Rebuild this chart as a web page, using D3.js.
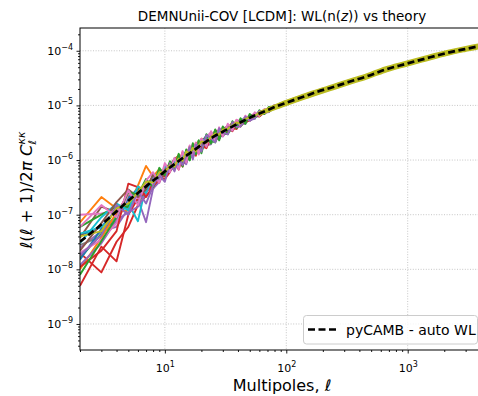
<!DOCTYPE html>
<html><head><meta charset="utf-8">
<script src="https://cdn.jsdelivr.net/npm/d3@7"></script>
<style>
body{margin:0;background:#fff}
svg{display:block}
text{font-family:"DejaVu Sans",sans-serif}
</style>
</head><body>
<svg id="c" width="478" height="396"></svg>
<script>
// ---------------- data ----------------
const ells = [2,3,4,5,6,7,8,9,10,11,12,13,14,15,16,17,18,19,20,22,24,26,28,30,33,36,39,42,46,50,55,60,66,72,80,88,97,107,120,135,155,180,210,250,300,360,460];

const r01 = [4.2e-8,5.9e-8,1.27e-7,1.35e-7,3.0e-7,3.0e-7,4.4e-7,4.3e-7,6.8e-7,6.9e-7,8.8e-7,1.15e-6,8.6e-7,1.5e-6,1.19e-6,1.9e-6,1.36e-6,1.93e-6,1.43e-6,2.64e-6,2.25e-6,3.2e-6,2.6e-6,3.96e-6,3.33e-6,4.5e-6,3.96e-6,5.6e-6,4.86e-6,6.5e-6,6.0e-6,7.7e-6,7.2e-6,9.2e-6,8.8e-6,1.06e-5,1.04e-5,1.24e-5,1.25e-5,1.49e-5,1.53e-5,1.83e-5,1.94e-5,2.32e-5,2.5e-5,2.96e-5,3.4e-5];
const r02 = [7.2e-8,2.1e-7,1.3e-7,1.5e-7,3.4e-7,7.8e-7,5.0e-7,6.8e-7,5.6e-7,9.0e-7,8.0e-7,8.2e-7,1.4e-6,1.2e-6,1.78e-6,1.31e-6,1.92e-6,1.4e-6,2.47e-6,2.09e-6,3.1e-6,2.52e-6,3.66e-6,2.8e-6,4.25e-6,3.9e-6,5.4e-6,4.37e-6,6.05e-6,5.5e-6,7.15e-6,6.4e-6,8.3e-6,8.0e-6,9.95e-6,9.4e-6,1.16e-5,1.12e-5,1.37e-5,1.38e-5,1.64e-5,1.73e-5,2.04e-5,2.2e-5,2.6e-5,2.87e-5,3.43e-5];
const r03 = [1.6e-8,4.5e-8,1.0e-7,2.2e-7,1.6e-7,2.9e-7,3.6e-7,4.4e-7,5.3e-7,6.3e-7,7.8e-7,9.6e-7,8.1e-7,1.32e-6,1.58e-6,1.17e-6,1.68e-6,2.28e-6,1.71e-6,1.76e-6,2.75e-6,3.36e-6,2.75e-6,3.47e-6,3.15e-6,4.7e-6,4.5e-6,4.27e-6,5.95e-6,6.2e-6,5.85e-6,7.8e-6,7.1e-6,8.8e-6,1.0e-5,9.3e-6,1.11e-5,1.25e-5,1.24e-5,1.48e-5,1.53e-5,1.83e-5,1.94e-5,2.3e-5,2.52e-5,2.96e-5,3.37e-5];
const r04 = [2.0e-8,8.8e-9,3.2e-8,6.0e-8,1.5e-7,2.2e-7,3.0e-7,4.8e-7,4.5e-7,6.0e-7,9.5e-7,6.7e-7,1.19e-6,9.0e-7,1.32e-6,1.17e-6,1.84e-6,1.31e-6,1.8e-6,1.76e-6,2.75e-6,2.18e-6,3.05e-6,2.8e-6,3.9e-6,3.36e-6,4.5e-6,4.12e-6,5.3e-6,5.3e-6,6.6e-6,6.25e-6,7.55e-6,7.7e-6,9.3e-6,9.3e-6,1.07e-5,1.12e-5,1.3e-5,1.36e-5,1.58e-5,1.73e-5,1.98e-5,2.2e-5,2.55e-5,2.87e-5,3.4e-5];
const r05 = [2.5e-8,5.0e-8,6.0e-8,1.3e-7,1.9e-7,7.3e-8,3.0e-7,4.0e-7,5.8e-7,6.2e-7,9.0e-7,1.01e-6,9.7e-7,8.4e-7,1.45e-6,1.46e-6,1.28e-6,1.66e-6,2.28e-6,1.87e-6,1.95e-6,2.94e-6,3.36e-6,2.7e-6,3.5e-6,4.43e-6,3.83e-6,4.6e-6,5.67e-6,5.2e-6,6.25e-6,7.45e-6,6.95e-6,8.15e-6,9.65e-6,9.2e-6,1.07e-5,1.23e-5,1.24e-5,1.41e-5,1.63e-5,1.71e-5,2.0e-5,2.2e-5,2.6e-5,2.84e-5,3.4e-5];
const r06 = [3.8e-8,1.4e-7,1.1e-7,2.3e-7,2.2e-7,3.9e-7,3.6e-7,6.0e-7,5.6e-7,7.9e-7,1.05e-6,1.2e-6,1.08e-6,1.38e-6,1.12e-6,1.75e-6,1.76e-6,1.58e-6,2.19e-6,2.75e-6,2.38e-6,2.8e-6,3.66e-6,3.63e-6,3.4e-6,4.6e-6,4.95e-6,4.6e-6,5.95e-6,6.25e-6,6.2e-6,7.65e-6,8.1e-6,8.05e-6,9.85e-6,1.04e-5,1.06e-5,1.23e-5,1.34e-5,1.39e-5,1.63e-5,1.82e-5,1.96e-5,2.3e-5,2.58e-5,2.9e-5,3.4e-5];
const r07 = [1.0e-7,1.05e-7,1.2e-7,1.7e-7,2.8e-7,3.0e-7,4.5e-7,5.0e-7,6.4e-7,7.0e-7,8.6e-7,8.6e-7,1.3e-6,1.02e-6,1.45e-6,1.97e-6,1.52e-6,2.0e-6,1.62e-6,2.64e-6,3.25e-6,2.52e-6,3.2e-6,3.96e-6,3.7e-6,3.7e-6,5.2e-6,5.35e-6,4.97e-6,6.5e-6,7.0e-6,6.65e-6,8.15e-6,9.0e-6,8.85e-6,1.05e-5,1.14e-5,1.14e-5,1.35e-5,1.46e-5,1.55e-5,1.82e-5,2.02e-5,2.23e-5,2.58e-5,2.93e-5,3.41e-5];
const r08 = [2.8e-8,4.0e-8,1.0e-7,1.5e-7,2.7e-7,2.8e-7,4.4e-7,4.7e-7,6.6e-7,6.8e-7,8.8e-7,1.06e-6,1.08e-6,9.6e-7,1.32e-6,1.31e-6,2.0e-6,1.75e-6,2.09e-6,2.09e-6,2.13e-6,3.22e-6,2.75e-6,3.3e-6,4.15e-6,3.6e-6,4.73e-6,4.37e-6,5.4e-6,5.6e-6,6.9e-6,6.8e-6,7.85e-6,7.9e-6,9.3e-6,1.05e-5,1.05e-5,1.18e-5,1.35e-5,1.38e-5,1.58e-5,1.82e-5,1.94e-5,2.27e-5,2.52e-5,2.9e-5,3.4e-5];
const r09 = [4.5e-8,6.0e-8,9.0e-8,1.6e-7,7.6e-8,3.5e-7,3.9e-7,5.5e-7,6.0e-7,8.0e-7,7.9e-7,9.1e-7,1.19e-6,1.44e-6,1.06e-6,1.61e-6,1.6e-6,1.4e-6,2.28e-6,2.2e-6,2.88e-6,2.38e-6,2.9e-6,3.63e-6,3.33e-6,4.3e-6,4.28e-6,5.43e-6,4.86e-6,6.15e-6,6.05e-6,7.5e-6,7.4e-6,8.8e-6,8.85e-6,1.03e-5,1.13e-5,1.13e-5,1.33e-5,1.46e-5,1.53e-5,1.8e-5,2.02e-5,2.2e-5,2.58e-5,2.9e-5,3.4e-5];
const r10 = [1.5e-8,5.5e-8,7.5e-8,2.0e-7,3.0e-7,2.6e-7,4.6e-7,5.6e-7,5.7e-7,7.8e-7,8.0e-7,7.7e-7,1.03e-6,1.26e-6,1.65e-6,1.46e-6,1.28e-6,1.93e-6,1.9e-6,2.86e-6,2.38e-6,3.08e-6,2.44e-6,3.14e-6,4.25e-6,4.1e-6,4.05e-6,5.1e-6,6.05e-6,5.3e-6,6.5e-6,6.6e-6,8.3e-6,8.25e-6,8.85e-6,1.04e-5,1.07e-5,1.24e-5,1.26e-5,1.42e-5,1.63e-5,1.74e-5,1.98e-5,2.3e-5,2.52e-5,2.93e-5,3.4e-5];
const r11 = [1.0e-8,3.8e-8,1.1e-7,1.2e-7,3.2e-7,3.0e-7,5.2e-7,4.6e-7,7.2e-7,6.7e-7,9.4e-7,1.25e-6,1.13e-6,1.08e-6,1.58e-6,1.68e-6,1.52e-6,2.19e-6,2.0e-6,1.98e-6,3.0e-6,2.94e-6,3.5e-6,3.14e-6,3.9e-6,4.9e-6,4.28e-6,5.25e-6,5.13e-6,6.5e-6,6.6e-6,6.9e-6,8.3e-6,8.05e-6,9.65e-6,1.0e-5,1.14e-5,1.14e-5,1.34e-5,1.39e-5,1.61e-5,1.76e-5,2.02e-5,2.25e-5,2.58e-5,2.87e-5,3.4e-5];
const r12 = [6.0e-8,1.0e-7,1.4e-7,1.4e-7,2.9e-7,3.1e-7,3.8e-7,6.2e-7,6.5e-7,6.9e-7,9.2e-7,1.1e-6,9.2e-7,1.2e-6,9.9e-7,1.61e-6,1.44e-6,1.75e-6,1.52e-6,2.31e-6,2.25e-6,2.1e-6,3.05e-6,2.97e-6,3.03e-6,3.9e-6,4.95e-6,4.12e-6,5.3e-6,5.3e-6,6.2e-6,6.4e-6,7.7e-6,7.7e-6,8.9e-6,9.5e-6,1.06e-5,1.11e-5,1.27e-5,1.36e-5,1.55e-5,1.73e-5,1.96e-5,2.2e-5,2.52e-5,2.87e-5,3.4e-5];
const r13 = [5.0e-9,2.6e-8,1.4e-8,1.0e-7,2.0e-7,2.6e-7,3.5e-7,5.8e-7,5.0e-7,7.8e-7,7.5e-7,9.1e-7,1.35e-6,1.08e-6,1.39e-6,1.24e-6,2.08e-6,1.84e-6,1.71e-6,2.53e-6,2.38e-6,3.5e-6,3.2e-6,2.97e-6,4.07e-6,3.9e-6,5.18e-6,5.1e-6,4.86e-6,6.5e-6,6.2e-6,7.45e-6,8.15e-6,8.0e-6,9.75e-6,9.7e-6,1.13e-5,1.2e-5,1.26e-5,1.46e-5,1.58e-5,1.74e-5,2.02e-5,2.25e-5,2.52e-5,2.93e-5,3.4e-5];
const r14 = [1.2e-8,3.0e-8,8.0e-8,1.1e-7,1.4e-7,2.4e-7,4.8e-7,3.9e-7,7.0e-7,6.6e-7,8.2e-7,9.6e-7,8.6e-7,1.38e-6,1.25e-6,1.1e-6,1.68e-6,1.58e-6,2.09e-6,1.87e-6,2.5e-6,2.52e-6,2.44e-6,3.47e-6,3.5e-6,3.5e-6,4.73e-6,4.6e-6,4.6e-6,5.9e-6,6.0e-6,6.75e-6,7.15e-6,8.55e-6,8.75e-6,9.7e-6,1.04e-5,1.17e-5,1.25e-5,1.38e-5,1.56e-5,1.73e-5,1.96e-5,2.2e-5,2.55e-5,2.87e-5,3.4e-5];
const r15 = [2.0e-8,3.5e-8,7.0e-8,2.4e-7,2.0e-7,3.9e-7,3.6e-7,6.0e-7,5.5e-7,8.2e-7,8.0e-7,1.15e-6,1.19e-6,1.14e-6,1.72e-6,1.53e-6,1.44e-6,2.1e-6,2.38e-6,2.2e-6,2.75e-6,3.36e-6,2.9e-6,3.8e-6,4.07e-6,4.1e-6,5.4e-6,5.1e-6,5.67e-6,6.6e-6,6.5e-6,7.65e-6,7.95e-6,8.9e-6,9.5e-6,1.05e-5,1.12e-5,1.23e-5,1.33e-5,1.46e-5,1.61e-5,1.82e-5,2.0e-5,2.27e-5,2.58e-5,2.9e-5,3.4e-5];
const r16 = [1.1e-8,2.2e-8,5.0e-8,3.7e-7,3.2e-7,2.1e-7,3.3e-7,4.5e-7,7.4e-7,6.4e-7,8.0e-7,1.01e-6,7.6e-7,1.44e-6,1.12e-6,1.46e-6,1.2e-6,1.93e-6,1.8e-6,1.65e-6,2.63e-6,2.66e-6,2.44e-6,3.3e-6,3.33e-6,3.9e-6,3.69e-6,4.85e-6,4.86e-6,5.43e-6,6.5e-6,6.4e-6,7.4e-6,7.8e-6,9.1e-6,9.5e-6,1.06e-5,1.13e-5,1.27e-5,1.38e-5,1.55e-5,1.74e-5,1.96e-5,2.23e-5,2.52e-5,2.9e-5,3.4e-5];
const r17 = [3.0e-8,9.0e-8,1.6e-7,1.2e-7,3.3e-7,2.5e-7,5.5e-7,4.2e-7,7.8e-7,6.3e-7,1.0e-6,8.2e-7,1.24e-6,1.08e-6,1.58e-6,1.39e-6,1.76e-6,1.49e-6,2.0e-6,2.64e-6,2.13e-6,2.8e-6,3.5e-6,3.04e-6,3.7e-6,4.5e-6,4.05e-6,5.1e-6,5.4e-6,5.6e-6,7.0e-6,6.8e-6,8.0e-6,8.15e-6,9.75e-6,9.7e-6,1.11e-5,1.22e-5,1.27e-5,1.43e-5,1.61e-5,1.76e-5,1.98e-5,2.27e-5,2.55e-5,2.9e-5,3.4e-5];
const r18 = [2.2e-8,7.0e-8,1.7e-7,2.9e-7,2.1e-7,2.9e-7,5.4e-7,4.0e-7,6.4e-7,8.6e-7,7.2e-7,1.2e-6,1.03e-6,1.26e-6,1.06e-6,1.75e-6,1.68e-6,1.66e-6,2.09e-6,1.98e-6,3.0e-6,3.08e-6,2.75e-6,3.47e-6,4.25e-6,3.7e-6,4.5e-6,5.43e-6,5.13e-6,5.9e-6,7.15e-6,6.9e-6,7.7e-6,8.9e-6,9.0e-6,1.03e-5,1.09e-5,1.14e-5,1.34e-5,1.42e-5,1.55e-5,1.82e-5,1.98e-5,2.23e-5,2.55e-5,2.9e-5,3.4e-5];
const r19 = [8.0e-9,3.3e-8,9.0e-8,2.6e-7,2.3e-7,4.5e-7,3.2e-7,7.2e-7,5.2e-7,9.5e-7,7.0e-7,1.3e-6,7.6e-7,1.56e-6,9.9e-7,2.04e-6,1.28e-6,2.28e-6,1.33e-6,2.97e-6,2.0e-6,3.64e-6,2.29e-6,4.13e-6,2.96e-6,5.13e-6,3.83e-6,5.82e-6,4.59e-6,6.96e-6,5.72e-6,8.17e-6,6.93e-6,9.4e-6,8.56e-6,1.08e-5,1.02e-5,1.25e-5,1.24e-5,1.49e-5,1.53e-5,1.83e-5,1.94e-5,2.3e-5,2.52e-5,2.9e-5,3.4e-5];
const r20 = [6.0e-8,1.5e-7,9.0e-8,2.8e-7,1.5e-7,4.2e-7,6.0e-7,3.8e-7,8.8e-7,6.0e-7,1.1e-6,6.7e-7,1.46e-6,9.0e-7,1.85e-6,1.17e-6,2.08e-6,1.26e-6,2.47e-6,1.76e-6,3.38e-6,2.18e-6,3.97e-6,2.71e-6,4.63e-6,3.49e-6,5.49e-6,4.17e-6,6.48e-6,5.19e-6,7.48e-6,6.39e-6,8.62e-6,7.73e-6,1.02e-5,9.4e-6,1.17e-5,1.12e-5,1.37e-5,1.38e-5,1.64e-5,1.74e-5,2.02e-5,2.23e-5,2.58e-5,2.9e-5,3.4e-5];
const r21 = [1.8e-8,4.2e-8,1.5e-7,1.0e-7,2.7e-7,1.6e-7,3.4e-7,5.3e-7,4.0e-7,8.8e-7,6.2e-7,1.06e-6,8.1e-7,1.2e-6,1.72e-6,1.02e-6,1.92e-6,1.75e-6,1.43e-6,2.86e-6,2.5e-6,2.1e-6,3.81e-6,3.14e-6,2.96e-6,4.92e-6,4.05e-6,4.12e-6,6.21e-6,5.31e-6,5.72e-6,7.95e-6,7.32e-6,7.56e-6,1.0e-5,9.5e-6,1.01e-5,1.24e-5,1.25e-5,1.35e-5,1.63e-5,1.73e-5,1.94e-5,2.27e-5,2.52e-5,2.9e-5,3.4e-5];
const r22 = [4.0e-8,5.0e-8,1.3e-7,1.6e-7,2.6e-7,4.0e-7,3.9e-7,6.0e-7,5.9e-7,8.0e-7,7.6e-7,1.06e-6,9.7e-7,1.44e-6,1.32e-6,1.68e-6,1.44e-6,1.84e-6,2.19e-6,2.09e-6,2.63e-6,3.08e-6,2.9e-6,3.63e-6,3.7e-6,4.3e-6,4.86e-6,4.7e-6,5.67e-6,6.0e-6,6.37e-6,7.4e-6,7.7e-6,8.55e-6,9.4e-6,9.9e-6,1.11e-5,1.18e-5,1.31e-5,1.42e-5,1.6e-5,1.78e-5,1.98e-5,2.25e-5,2.55e-5,2.9e-5,3.4e-5];

const realizations = [r01,r02,r03,r04,r05,r06,r07,r08,r09,r10,r11,r12,r13,r14,r15,r16,r17,r18,r19,r20,r21,r22];
const realColors = ["#1f77b4","#ff7f0e","#2ca02c","#d62728","#9467bd","#8c564b","#e377c2","#7f7f7f","#17becf",
                    "#1f77b4","#ff7f0e","#2ca02c","#d62728","#9467bd","#e377c2","#d62728","#17becf","#8c564b",
                    "#2ca02c","#e377c2","#9467bd","#bcbd22"];

// scatter envelope of the last realization at high multipoles
const bandL  = [60,96,140,240,330,460,650,950,1400,2100,3000,3800,4250];
const bandLo = [6.6e-6,9.7e-6,1.3e-5,1.93e-5,2.43e-5,3.06e-5,4.05e-5,5.15e-5,6.5e-5,8.25e-5,9.8e-5,1.09e-4,1.14e-4];
const bandHi = [7.6e-6,1.2e-5,1.61e-5,2.38e-5,3.0e-5,3.77e-5,5.0e-5,6.3e-5,7.95e-5,1.0e-4,1.19e-4,1.32e-4,1.38e-4];

// pyCAMB theory
const theoryL = [2,3,4,5,6,7,8,9,10,11,12,14,16,18,20,23,26,30,34,39,45,52,60,70,82,96,115,140,180,240,330,460,650,950,1400,2100,3000,3800,4250];
const theoryV = [3.2e-8,6.6e-8,1.15e-7,1.8e-7,2.5e-7,3.3e-7,4.2e-7,5.1e-7,6.2e-7,7.3e-7,8.4e-7,1.08e-6,1.32e-6,1.6e-6,1.9e-6,2.35e-6,2.8e-6,3.3e-6,3.85e-6,4.5e-6,5.3e-6,6.2e-6,7.1e-6,8.2e-6,9.5e-6,1.08e-5,1.25e-5,1.45e-5,1.78e-5,2.15e-5,2.7e-5,3.4e-5,4.5e-5,5.7e-5,7.2e-5,9.1e-5,1.08e-4,1.2e-4,1.26e-4];

const xMajor = [10,100,1000];
const yMajor = [1e-9,1e-8,1e-7,1e-6,1e-5,1e-4];
const legendLabel = "pyCAMB - auto WL";

// ---------------- layout ----------------
const L = 80, R = 484, T = 28, B = 350;
const svg = d3.select("#c");
const x = d3.scaleLog().domain([2, 4250]).range([L, R]);
const y = d3.scaleLog().domain([3.34e-10, 2.61e-4]).range([B, T]);

const xMinor = [];
for (let e = 0; e <= 3; e++) for (let k = 2; k <= 9; k++) { const v = k * Math.pow(10, e); if (v >= 2 && v <= 4250) xMinor.push(v); }
const yMinor = [];
for (let e = -10; e <= -4; e++) for (let k = 2; k <= 9; k++) { const v = k * Math.pow(10, e); if (v >= 3.34e-10 && v <= 2.61e-4) yMinor.push(v); }

svg.append("defs").append("clipPath").attr("id", "clip")
  .append("rect").attr("x", L).attr("y", T).attr("width", R - L).attr("height", B - T);

// grid
const grid = svg.append("g").attr("stroke", "#b8b8b8").attr("stroke-width", 0.8).attr("stroke-dasharray", "1,1.6");
grid.selectAll(".gx").data(xMajor).join("line").attr("class", "gx")
  .attr("x1", d => x(d)).attr("x2", d => x(d)).attr("y1", T).attr("y2", B);
grid.selectAll(".gy").data(yMajor).join("line").attr("class", "gy")
  .attr("x1", L).attr("x2", R).attr("y1", d => y(d)).attr("y2", d => y(d));

// data
const plot = svg.append("g").attr("clip-path", "url(#clip)");
const line = d3.line().x((d, i) => x(ells[i])).y(d => y(d));
plot.selectAll(".real").data(realizations).join("path").attr("class", "real")
  .attr("d", line).attr("fill", "none")
  .attr("stroke", (d, i) => realColors[i]).attr("stroke-width", 1.9)
  .attr("stroke-linejoin", "round");

const area = d3.area().x((d, i) => x(bandL[i])).y0((d, i) => y(bandLo[i])).y1((d, i) => y(bandHi[i])).curve(d3.curveMonotoneX);
plot.append("path").datum(bandL).attr("d", area)
  .attr("fill", "#bcbd22").attr("stroke", "#bcbd22").attr("stroke-width", 1.4).attr("stroke-linejoin", "round");

const thLine = d3.line().x((d, i) => x(theoryL[i])).y(d => y(d)).curve(d3.curveMonotoneX);
plot.append("path").datum(theoryV).attr("d", thLine)
  .attr("fill", "none").attr("stroke", "#000").attr("stroke-width", 2.7)
  .attr("stroke-dasharray", "7,3.5");

// axes
function supLabel(sel) {
  sel.each(function (d) {
    const t = d3.select(this);
    const e = Math.round(Math.log10(d));
    t.text(null);
    t.append("tspan").text("10");
    t.append("tspan").attr("font-size", 8).attr("dy", -5).text(e < 0 ? "\u2212" + (-e) : String(e));
  });
}
function styleAxis(g) {
  g.attr("font-family", "DejaVu Sans").attr("font-size", 11);
  g.select(".domain").remove();
  g.selectAll(".tick line").attr("stroke", "#000").attr("stroke-width", 0.9);
  g.selectAll(".tick text").attr("fill", "#000");
}
const gxMin = svg.append("g").attr("transform", `translate(0,${B})`)
  .call(d3.axisBottom(x).tickValues(xMinor).tickSize(2).tickSizeOuter(0).tickFormat(() => ""));
styleAxis(gxMin);
const gx = svg.append("g").attr("transform", `translate(0,${B})`)
  .call(d3.axisBottom(x).tickValues(xMajor).tickSize(3.5).tickSizeOuter(0).tickPadding(10.5));
styleAxis(gx);
gx.selectAll(".tick text").call(supLabel);

const gyMin = svg.append("g").attr("transform", `translate(${L},0)`)
  .call(d3.axisLeft(y).tickValues(yMinor).tickSize(2).tickSizeOuter(0).tickFormat(() => ""));
styleAxis(gyMin);
const gy = svg.append("g").attr("transform", `translate(${L},0)`)
  .call(d3.axisLeft(y).tickValues(yMajor).tickSize(3.5).tickSizeOuter(0).tickPadding(3.5));
styleAxis(gy);
gy.selectAll(".tick text").call(supLabel);

// spines
svg.append("rect").attr("x", L).attr("y", T).attr("width", R - L).attr("height", B - T)
  .attr("fill", "none").attr("stroke", "#000").attr("stroke-width", 1);

// title
const title = svg.append("text").attr("x", 282).attr("y", 20.5).attr("text-anchor", "middle").attr("font-size", 13.5);
title.append("tspan").text("DEMNUnii-COV [LCDM]: WL(n(");
title.append("tspan").attr("font-style", "italic").text("z");
title.append("tspan").text(")) vs theory");

// x label
const xl = svg.append("text").attr("x", 282).attr("y", 391).attr("text-anchor", "middle").attr("font-size", 16);
xl.append("tspan").text("Multipoles, ");
xl.append("tspan").attr("font-style", "italic").text("\u2113");

// y label
const yl = svg.append("text").attr("transform", "translate(32,190) rotate(-90)").attr("text-anchor", "middle").attr("font-size", 16.5);
yl.append("tspan").attr("font-style", "italic").text("\u2113");
yl.append("tspan").text("(");
yl.append("tspan").attr("font-style", "italic").text("\u2113");
yl.append("tspan").text(" + 1)/2");
yl.append("tspan").attr("font-style", "italic").text("\u03c0 C");
yl.append("tspan").attr("font-style", "italic").attr("font-size", 11).attr("dy", -7).text("\u03ba\u03ba");
yl.append("tspan").attr("font-style", "italic").attr("font-size", 11).attr("dx", -13).attr("dy", 11).text("\u2113");

// legend
const lg = svg.append("g");
lg.append("rect").attr("x", 303.5).attr("y", 315.5).attr("width", 174).attr("height", 28.5).attr("rx", 3)
  .attr("fill", "#fff").attr("fill-opacity", 0.8).attr("stroke", "#cccccc").attr("stroke-width", 1);
lg.append("line").attr("x1", 308).attr("x2", 336).attr("y1", 329.5).attr("y2", 329.5)
  .attr("stroke", "#000").attr("stroke-width", 2.7).attr("stroke-dasharray", "7,3.5");
lg.append("text").attr("x", 346).attr("y", 334.5).attr("font-size", 14).text(legendLabel);
</script>
</body></html>
